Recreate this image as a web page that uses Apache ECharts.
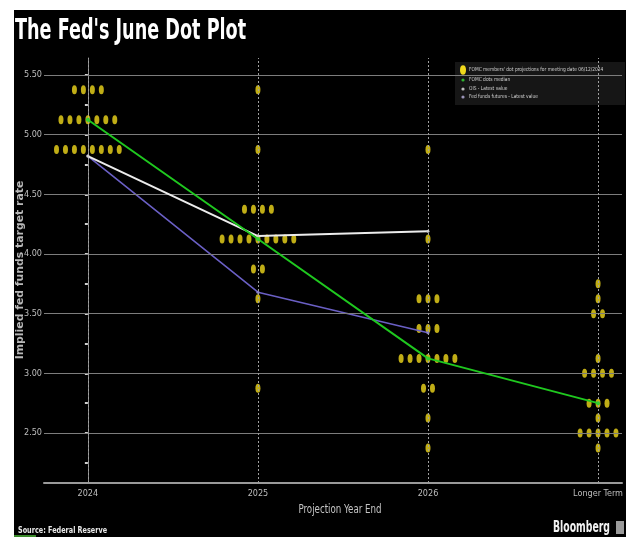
<!DOCTYPE html>
<html>
<head>
<meta charset="utf-8">
<script src="https://cdn.jsdelivr.net/npm/echarts@6/dist/echarts.min.js"></script>
<style>
  html, body { margin: 0; padding: 0; background: #ffffff; }
  #chart { width: 626px; height: 537px; }
</style>
</head>
<body>
<div id="chart"></div>
<script>
// Projection horizons on the x axis
const categories = ['2024', '2025', '2026', 'Longer Term'];
// Labelled rate levels and the minor tick marks between them
const yTicks = [2.5, 3.0, 3.5, 4.0, 4.5, 5.0, 5.5];
const yMinorTicks = [2.25, 2.75, 3.25, 3.75, 4.25, 4.75, 5.25];

// FOMC participants' dots: rate levels and how many participants chose each
const dotRates2024 = [5.375, 5.125, 4.875];
const dotCounts2024 = [4, 7, 8];
const dotRates2025 = [5.375, 4.875, 4.375, 4.125, 3.875, 3.625, 2.875];
const dotCounts2025 = [1, 1, 4, 9, 2, 1, 1];
const dotRates2026 = [4.875, 4.125, 3.625, 3.375, 3.125, 2.875, 2.625, 2.375];
const dotCounts2026 = [1, 1, 3, 3, 7, 2, 1, 1];
const dotRatesLonger = [3.75, 3.625, 3.5, 3.125, 3.0, 2.75, 2.625, 2.5, 2.375];
const dotCountsLonger = [1, 1, 2, 1, 4, 3, 1, 5, 1];

// Lines: median dot, OIS-implied path, fed funds futures path
const medianValues = [5.125, 4.125, 3.125, 2.75];
const oisValues = [4.82, 4.15, 4.19];
const futuresValues = [4.82, 3.68, 3.34];

const FONT = '"Liberation Sans Narrow", "DejaVu Sans Condensed", "Roboto Condensed", "Liberation Sans", sans-serif';
const DOT_STEP = 0.0527;   // horizontal spacing between dots sharing a level
const ELLIPSE = 'path://M1,0A1,1,0,1,1,1,2A1,1,0,1,1,1,0Z';

const dotGroups = [
  [dotRates2024, dotCounts2024],
  [dotRates2025, dotCounts2025],
  [dotRates2026, dotCounts2026],
  [dotRatesLonger, dotCountsLonger]
];
const dotPoints = [];
dotGroups.forEach(([rates, counts], idx) => {
  rates.forEach((r, j) => {
    const n = counts[j];
    for (let k = 0; k < n; k++) {
      dotPoints.push([idx + (k - (n - 1) / 2) * DOT_STEP, r]);
    }
  });
});

const toXY = vals => vals.map((v, i) => [i, v]);

const chart = echarts.init(document.getElementById('chart'), null, { renderer: 'canvas' });

const hLines = yTicks.map(v => ({ yAxis: v, lineStyle: { color: '#7d7d7d', width: 1, type: 'solid' } }));
const vLines = categories.map((c, i) => ({ xAxis: i, lineStyle: { color: '#a0a0a0', width: 1, type: [2, 2] } }));

const legendText = (text, y) => ({
  type: 'text', x: 469, y: y, scaleX: 0.88,
  style: { text: text, fill: '#d0d0d0', font: '5.5px ' + FONT, verticalAlign: 'middle' }
});

const option = {
  backgroundColor: 'transparent',
  animation: false,
  grid: { left: 44, top: 58, right: 2, bottom: 54 },
  xAxis: {
    type: 'value',
    min: -0.258,
    max: 3.141,
    axisLine: { show: true, lineStyle: { color: '#9a9a9a', width: 2 } },
    axisTick: { show: false },
    splitLine: { show: false },
    axisLabel: {
      customValues: [0, 1, 2, 3],
      formatter: v => categories[Math.round(v)] || '',
      color: '#bdbdbd',
      fontFamily: FONT,
      fontSize: 9,
      margin: 6
    }
  },
  yAxis: {
    type: 'value',
    min: 2.081,
    max: 5.642,
    axisLine: { show: true, lineStyle: { color: '#8a8a8a', width: 1 } },
    axisTick: {
      show: true,
      customValues: yTicks.concat(yMinorTicks),
      length: 3,
      inside: false,
      lineStyle: { color: '#cfcfcf', width: 2 }
    },
    splitLine: { show: false },
    axisLabel: {
      customValues: yTicks,
      formatter: v => v.toFixed(2),
      color: '#bdbdbd',
      fontFamily: FONT,
      fontSize: 9,
      margin: 2
    }
  },
  series: [
    {
      type: 'scatter',
      name: 'grid',
      data: [],
      silent: true,
      z: 1,
      markLine: {
        silent: true,
        symbol: 'none',
        label: { show: false },
        animation: false,
        data: hLines.concat(vLines)
      }
    },
    {
      type: 'scatter',
      name: "FOMC members' dot projections",
      data: dotPoints,
      symbol: ELLIPSE,
      symbolSize: [5, 9],
      itemStyle: { color: '#f0d81c' },
      z: 3
    },
    {
      type: 'line',
      name: 'Fed funds futures',
      data: toXY(futuresValues),
      symbol: 'circle',
      symbolSize: 3,
      showSymbol: true,
      lineStyle: { color: '#6a5fc4', width: 1.6 },
      itemStyle: { color: '#8a82c8' },
      z: 4
    },
    {
      type: 'line',
      name: 'OIS',
      data: toXY(oisValues),
      symbol: 'circle',
      symbolSize: 3,
      showSymbol: true,
      lineStyle: { color: '#ececec', width: 2 },
      itemStyle: { color: '#d0d0d0' },
      z: 5
    },
    {
      type: 'line',
      name: 'FOMC dots median',
      data: toXY(medianValues),
      symbol: 'circle',
      symbolSize: 4,
      showSymbol: true,
      lineStyle: { color: '#1fc81f', width: 2 },
      itemStyle: { color: '#2fd02f' },
      z: 6
    }
  ],
  graphic: [
    // black canvas behind the chart
    { type: 'rect', z: -10, shape: { x: 14, y: 10, width: 612, height: 527 }, style: { fill: '#000000' }, silent: true },
    // title
    {
      type: 'text', x: 15, y: 32, z: 10, scaleX: 0.70,
      style: { text: "The Fed's June Dot Plot", fill: '#ffffff', font: 'bold 28px ' + FONT, verticalAlign: 'middle' }
    },
    // y axis name
    {
      type: 'text', x: 20, y: 270, rotation: Math.PI / 2, z: 10, scaleX: 1.15,
      style: {
        text: 'Implied fed funds target rate', fill: '#b8b8b8',
        font: 'bold 10.5px ' + FONT, align: 'center', verticalAlign: 'middle'
      }
    },
    // x axis name
    {
      type: 'text', x: 340, y: 510, z: 10, scaleX: 0.84,
      style: { text: 'Projection Year End', fill: '#c4c4c4', font: '11.5px ' + FONT, align: 'center', verticalAlign: 'middle' }
    },
    // source
    {
      type: 'text', x: 18, y: 531, z: 10, scaleX: 0.9,
      style: { text: 'Source: Federal Reserve', fill: '#e8e8e8', font: 'bold 8px ' + FONT, verticalAlign: 'middle' }
    },
    { type: 'rect', z: 9, shape: { x: 14, y: 535, width: 22, height: 2 }, style: { fill: '#3a8a2a' }, silent: true },
    // Bloomberg mark
    {
      type: 'text', x: 553, y: 528, z: 10, scaleX: 0.69,
      style: { text: 'Bloomberg', fill: '#f2f2f2', font: 'bold 15px ' + FONT, verticalAlign: 'middle' }
    },
    { type: 'rect', z: 10, shape: { x: 616, y: 521, width: 8, height: 13 }, style: { fill: '#9a9a9a' }, silent: true },
    // legend box
    {
      type: 'group', z: 20,
      children: [
        { type: 'rect', shape: { x: 455, y: 62, width: 170, height: 43 }, style: { fill: 'rgba(28,28,28,0.8)' } },
        { type: 'circle', x: 463, y: 70, scaleY: 1.6, shape: { cx: 0, cy: 0, r: 3 }, style: { fill: '#f0d81c' } },
        { type: 'circle', shape: { cx: 463, cy: 80, r: 1.6 }, style: { fill: '#2fb52f' } },
        { type: 'circle', shape: { cx: 463, cy: 89, r: 1.6 }, style: { fill: '#bdbdbd' } },
        { type: 'circle', shape: { cx: 463, cy: 97, r: 1.6 }, style: { fill: '#9a94b8' } },
        legendText("FOMC members' dot projections for meeting date 06/12/2024", 70),
        legendText('FOMC dots median', 80),
        legendText('OIS - Latest value', 89),
        legendText('Fed funds futures - Latest value', 97)
      ]
    }
  ]
};

chart.setOption(option);
</script>
</body>
</html>
